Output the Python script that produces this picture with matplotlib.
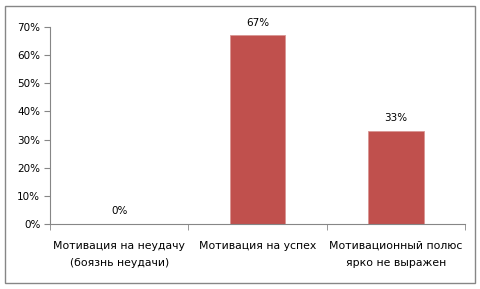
import matplotlib
matplotlib.use("Agg")
import matplotlib.pyplot as plt
from matplotlib.patches import Rectangle
from matplotlib.ticker import FixedLocator

categories = [
    "Мотивация на неудачу\n(боязнь неудачи)",
    "Мотивация на успех",
    "Мотивационный полюс\nярко не выражен",
]
values = [0.0, 0.67, 0.33]
value_labels = ["0%", "67%", "33%"]
y_ticks = [0.0, 0.1, 0.2, 0.3, 0.4, 0.5, 0.6, 0.7]
y_tick_labels = ["0%", "10%", "20%", "30%", "40%", "50%", "60%", "70%"]

plt.rcParams["font.family"] = "DejaVu Sans"

fig = plt.figure(figsize=(4.81, 2.89), dpi=100)
fig.patch.set_facecolor("white")

# outer chart border
fig.patches.append(Rectangle((5 / 481, 6 / 289), 470 / 481, 277 / 289,
                             transform=fig.transFigure, fill=False,
                             edgecolor="#868686", linewidth=1.0))

ax = fig.add_axes([50 / 481, 65 / 289, 415 / 481, 197 / 289])

x = list(range(len(categories)))
ax.bar(x, values, width=0.4, color="#C0504D", edgecolor="#D99694", linewidth=0.6)

for xi, v, lab in zip(x, values, value_labels):
    ax.text(xi, v + 0.028, lab, ha="center", va="bottom", fontsize=7.5)

ax.set_xlim(-0.5, 2.5)
ax.set_ylim(0, 0.7)
ax.set_yticks(y_ticks)
ax.set_yticklabels(y_tick_labels, fontsize=7.5)

ax.set_xticks(x)
ax.set_xticklabels(categories, fontsize=7.8, linespacing=1.95)
ax.tick_params(axis="x", length=0, pad=12)
ax.xaxis.set_minor_locator(FixedLocator([-0.5, 0.5, 1.5, 2.5]))
ax.tick_params(axis="x", which="minor", length=4, direction="out", color="#868686")
ax.tick_params(axis="y", length=4, direction="out", color="#868686", pad=3)

for s in ["top", "right"]:
    ax.spines[s].set_visible(False)
for s in ["left", "bottom"]:
    ax.spines[s].set_color("#868686")
    ax.spines[s].set_linewidth(0.8)

fig.savefig("out.png", dpi=100)
